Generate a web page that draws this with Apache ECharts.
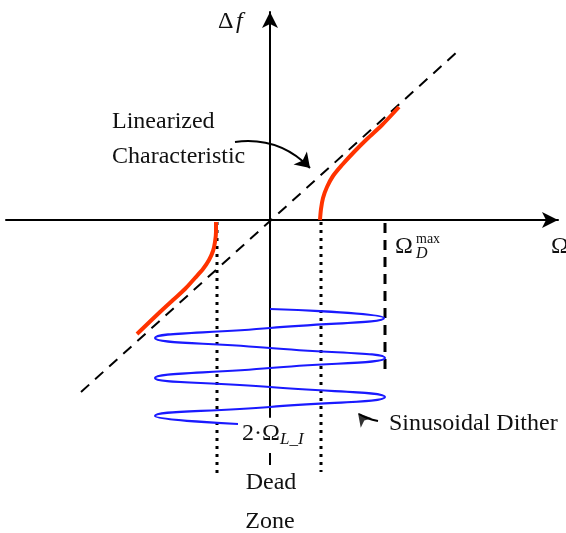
<!DOCTYPE html>
<html>
<head>
<meta charset="utf-8">
<script src="https://cdn.jsdelivr.net/npm/echarts@6/dist/echarts.min.js"></script>
<style>
  html, body { margin: 0; padding: 0; background: #fff; }
  #chart { width: 566px; height: 533px; }
</style>
</head>
<body>
<div id="chart"></div>
<script>
// diagram units: origin at the axes crossing, 1 unit ~ 1px
const linearized = [[-189, -172], [187, 168]];
const responseRight = [[50, 0], [51, 11], [53, 22], [57, 33], [63, 44], [72, 55], [84, 68], [97, 81], [112, 95], [129, 113]];
const responseLeft = [[-54, -2], [-54, -12], [-55, -22], [-57, -31], [-61, -40], [-67, -49], [-75, -58], [-85, -69], [-97, -80], [-110, -92], [-133, -114]];
const dither = [
  [0, -89], [114, -98], [0, -108], [-115, -118], [0, -128], [115, -138],
  [0, -148], [-115, -158], [0, -167], [115, -177], [0, -187], [-115, -196], [-32, -204]
];
const deadLeft = [[-53, -2], [-53, -255]];
const deadRight = [[51, -2], [51, -252]];
const omegaMax = [[115, -3], [115, -153]];
const zoneTick = [[0, -233], [0, -245]];
const deadArrow = [[-45, -238], [42, -238]];
const linArrow = [[-35, 78], [40, 52]];
const ditherTail = [[108, -201], [97, -198], [89, -194]];
const ditherHead = [[88, -193]];

const chart = echarts.init(document.getElementById('chart'));

const serif = 'Liberation Serif';
function txt(text, x, baseline, size, opts) {
  opts = opts || {};
  return {
    type: 'text',
    style: {
      text: text,
      x: x,
      y: baseline - 0.34 * size,
      fontSize: size,
      fontFamily: serif,
      fontStyle: opts.italic ? 'italic' : 'normal',
      fill: '#111',
      align: opts.align || 'left',
      textAlign: opts.align || 'left',
      verticalAlign: 'middle',
      textVerticalAlign: 'middle'
    }
  };
}

function plain(data, color, width, type, smooth) {
  return {
    type: 'line',
    data: data,
    smooth: smooth || false,
    symbol: 'none',
    clip: false,
    silent: true,
    lineStyle: { color: color, width: width, type: type || 'solid', cap: 'butt' }
  };
}

chart.setOption({
  animation: false,
  grid: { left: 6, right: 8, top: 12, bottom: 116 },
  xAxis: {
    type: 'value', min: -264, max: 288,
    axisLine: { onZero: true, symbol: ['none', 'arrow'], symbolSize: [12, 16], lineStyle: { color: '#000', width: 2 } },
    axisTick: { show: false }, axisLabel: { show: false }, splitLine: { show: false }
  },
  yAxis: {
    type: 'value', min: -197, max: 208,
    axisLine: { onZero: true, symbol: ['none', 'arrow'], symbolSize: [12, 16], lineStyle: { color: '#000', width: 2 } },
    axisTick: { show: false }, axisLabel: { show: false }, splitLine: { show: false }
  },
  series: [
    plain(linearized, '#000', 2, [11, 8]),
    plain(deadLeft, '#000', 3, [3, 5]),
    plain(deadRight, '#000', 3, [3, 5]),
    plain(omegaMax, '#000', 3, [10, 7]),
    plain(zoneTick, '#000', 2),
    plain(dither, '#1a1aff', 2.2, 'solid', 0.55),
    plain(responseRight, '#ff3300', 4, 'solid', 0.3),
    plain(responseLeft, '#ff3300', 4, 'solid', 0.3),
    plain(ditherTail, '#000', 2, 'solid', 0.5),
    {
      type: 'scatter',
      data: ditherHead,
      symbol: 'arrow',
      symbolSize: [11, 13],
      symbolRotate: 40,
      clip: false,
      silent: true,
      itemStyle: { color: '#000' }
    },
    {
      type: 'lines',
      coordinateSystem: 'cartesian2d',
      silent: true,
      symbol: ['none', 'arrow'],
      symbolSize: 14,
      lineStyle: { color: '#000', width: 2, opacity: 1 },
      data: [{ coords: linArrow, lineStyle: { curveness: 0.25 } }]
    },
    {
      type: 'lines',
      coordinateSystem: 'cartesian2d',
      silent: true,
      symbol: ['arrow', 'arrow'],
      symbolSize: [13, 16],
      lineStyle: { color: '#000', width: 2, opacity: 1 },
      data: [{ coords: deadArrow }]
    }
  ],
  graphic: [
    txt('\u0394', 218, 30, 24),
    txt('f', 236, 30, 24, { italic: true }),
    txt('Linearized', 112, 130, 24),
    txt('Characteristic', 112, 165, 24),
    txt('\u03A9', 551, 255, 24),
    txt('\u03A9', 395, 255, 24),
    txt('max', 416, 244, 14),
    txt('D', 416, 259, 16, { italic: true }),
    txt('Sinusoidal Dither', 389, 432, 24),
    txt('2\u00B7\u03A9', 242, 442, 24),
    txt('L_I', 280, 445, 17, { italic: true }),
    txt('Dead', 271, 491, 24, { align: 'center' }),
    txt('Zone', 270, 530, 24, { align: 'center' })
  ]
});
</script>
</body>
</html>
